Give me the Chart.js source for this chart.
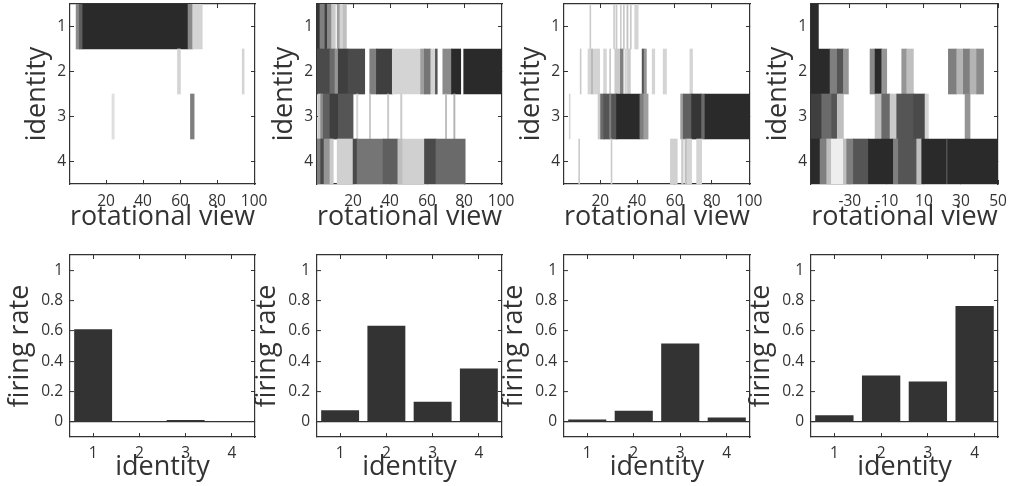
<!DOCTYPE html>
<html>
<head>
<meta charset="utf-8">
<script src="https://cdn.jsdelivr.net/npm/chart.js@4.4.1/dist/chart.umd.min.js"></script>
<style>
    html, body { margin: 0; padding: 0; background: #fff; width: 1009px; height: 486px; overflow: hidden; position: relative; }
</style>
</head>
<body>
<script>
// Four example cells: firing per identity across rotational views (top),
// and mean firing rate per identity (bottom).

// ---- data ----
const IDENTITIES = ['1', '2', '3', '4'];
const ROW_TICKS = [1, 2, 3, 4];
const VIEW_TICKS = [20, 40, 60, 80, 100];
const VIEW_TICKS_CENTERED = [-30, -10, 10, 30, 50];
const RATE_TICKS = [0, 0.2, 0.4, 0.6, 0.8, 1];

// mean firing rate per identity
const RATE_A = [0.61, 0.005, 0.012, 0.002];
const RATE_B = [0.077, 0.633, 0.132, 0.352];
const RATE_C = [0.015, 0.073, 0.516, 0.029];
const RATE_D = [0.044, 0.305, 0.266, 0.763];

// heat map rows (identity 1..4), runs of views: [from, to, response 0..1]
const HEAT_A = [
    [[3.8, 5.5, 0.55], [5.5, 7.4, 0.75], [7.4, 64.3, 1.0], [64.3, 66.8, 0.55], [66.8, 72, 0.2]],
    [[58.6, 60.2, 0.2], [93.6, 94.6, 0.2]],
    [[23.2, 24.4, 0.15], [65.6, 67.6, 0.6]],
    []
];
const HEAT_B = [
    [[0.5, 2.1, 0.95], [2.1, 4.8, 0.6], [4.8, 6.1, 0.9], [6.1, 8.4, 0.55], [8.4, 10.4, 0.25],
     [11.4, 12.9, 0.45], [12.9, 14.7, 0.2], [14.7, 16.4, 0.3]],
    [[0.5, 7.5, 0.85], [7.5, 10.2, 0.7], [10.2, 12, 0.5], [12, 17.3, 0.9], [17.3, 26.3, 0.85],
     [29, 32.6, 0.6], [32.6, 41.2, 0.9], [41.2, 56.5, 0.2], [56.5, 58.5, 0.45], [58.5, 62, 0.65],
     [62, 64.5, 0.2], [64.5, 65.5, 0.8], [68.5, 73.2, 0.55], [73.2, 78.2, 1.0], [79.8, 100.5, 1.0]],
    [[1.2, 2.5, 0.25], [2.5, 3.9, 0.55], [3.9, 7.5, 0.75], [7.5, 12, 0.9], [12, 20, 0.8],
     [21.9, 22.6, 0.2], [28.8, 29.5, 0.25], [38.6, 39.3, 0.25], [45.7, 46.4, 0.25],
     [69.9, 70.6, 0.3], [74.4, 75.1, 0.35]],
    [[0.5, 2.5, 0.6], [2.5, 4.3, 0.85], [4.3, 7.5, 0.5], [7.5, 9.3, 0.25], [11.4, 20, 0.22],
     [20, 22.2, 0.85], [22.2, 36.2, 0.65], [36.2, 44.2, 0.75], [44.2, 46.9, 0.3], [46.9, 58.6, 0.22],
     [58.6, 64.8, 0.85], [64.8, 80.6, 0.7]]
];
const HEAT_C = [
    [[14.4, 14.9, 0.25], [27.2, 27.7, 0.25], [28.4, 29, 0.25], [30.8, 31.3, 0.25], [32.4, 33, 0.25],
     [34.3, 34.9, 0.3], [36.1, 36.7, 0.25], [38.5, 40.4, 0.2]],
    [[9.2, 9.7, 0.25], [13.4, 19.7, 0.2], [15.3, 15.8, 0.35], [21.8, 23.3, 0.2], [25, 25.6, 0.25],
     [27.8, 30.5, 0.25], [30.8, 32.3, 0.6], [33.2, 34.1, 0.2], [34.6, 36.2, 0.25], [42.5, 43.6, 0.8],
     [43.6, 44.8, 0.5], [47.9, 49.3, 0.2], [53.8, 55.6, 0.2], [68.2, 69.6, 0.2]],
    [[3.3, 3.8, 0.2], [18.8, 20.2, 0.25], [20.2, 21.9, 0.7], [21.9, 25, 0.8], [25, 26, 0.6],
     [26, 28.7, 0.8], [28.7, 41.3, 1.0], [41.3, 43.4, 0.6], [43.4, 45.7, 0.45], [63.2, 64.6, 0.45],
     [64.6, 69.1, 0.75], [69.1, 74.5, 0.95], [74.5, 76.3, 0.7], [76.3, 100.5, 1.0]],
    [[8.4, 8.9, 0.25], [25.8, 26.3, 0.25], [57.7, 61.4, 0.22], [63.7, 64.6, 0.25], [65.5, 66.4, 0.3],
     [66.8, 69.1, 0.2], [71.8, 74.5, 0.2]]
];
const HEAT_D = [
    [[-51, -47, 1.0]],
    [[-51, -40.7, 1.0], [-40.7, -36.8, 0.6], [-36.8, -33.5, 0.8], [-33.5, -30.8, 0.5],
     [-19.1, -16.4, 0.55], [-16.4, -12.8, 1.0], [-12.8, -10.1, 0.5], [-2, 0.7, 0.5], [0.7, 4.3, 0.3],
     [23.2, 27.7, 0.6], [27.7, 31.3, 0.35], [31.3, 34.9, 0.6], [34.9, 38.5, 0.35], [38.5, 42.2, 0.55]],
    [[-51, -45.2, 0.9], [-45.2, -39.8, 0.7], [-39.8, -36.8, 0.8], [-36.8, -33.5, 0.3],
     [-16.4, -12.8, 0.3], [-12.8, -8.3, 0.7], [-8.3, -4.7, 0.25], [-4.7, 4.3, 0.8], [4.3, 10.6, 0.85],
     [10.6, 12.4, 0.2], [32.2, 34.9, 0.5]],
    [[-51, -46.1, 1.0], [-46.1, -42.5, 0.6], [-42.5, -40, 0.3], [-40, -33.5, 0.08], [-33.5, -31.7, 0.3],
     [-31.7, -28.1, 0.6], [-28.1, -20, 0.8], [-20, -6.5, 1.0], [-6.5, -3.8, 0.6], [-3.8, 6.1, 0.8],
     [6.1, 8.8, 0.3], [8.8, 22.3, 1.0], [22.3, 22.8, 0.7], [22.8, 50, 1.0]]
];

// ---- look ----
const INK = '#333333';
const FONT = '"Open Sans", "DejaVu Sans", sans-serif';
const TICK_FONT = { family: FONT, size: 15.5 };
const TITLE_FONT = { family: FONT, size: 27 };

const PANELS = [
    { heat: HEAT_A, rates: RATE_A, viewMin: 0.5, viewMax: 100.5, viewTicks: VIEW_TICKS, left: 70, right: 255 },
    { heat: HEAT_B, rates: RATE_B, viewMin: 0.5, viewMax: 100.5, viewTicks: VIEW_TICKS, left: 317, right: 502 },
    { heat: HEAT_C, rates: RATE_C, viewMin: 0.5, viewMax: 100.5, viewTicks: VIEW_TICKS, left: 564, right: 750 },
    { heat: HEAT_D, rates: RATE_D, viewMin: -51, viewMax: 50, viewTicks: VIEW_TICKS_CENTERED, left: 811, right: 998 }
];

// plot boxes (page pixels)
const HEAT_BOX = { top: 4, bottom: 184, pageBottom: 240 };
const RATE_BOX = { top: 255, bottom: 437, pageBottom: 486 };
const PAD_TOP = 24;     // room that Chart.js keeps for the top y label
const PAD_RIGHT = 28;   // room for the last x label
const AXIS_W = 70;

(function() {
    // white (no response) to near-black (full response)
    function shade(v) {
        const g = Math.round(255 - v * 213);
        return `rgb(${g},${g},${g})`;
    }

    function makeCanvas(left, top, width, height) {
        const c = document.createElement('canvas');
        c.width = width;
        c.height = height;
        c.style.cssText = `position:absolute;left:${left}px;top:${top}px;width:${width}px;height:${height}px`;
        document.body.appendChild(c);
        return c;
    }

    function canvasFor(p, box) {
        const left = p.left - AXIS_W;
        const top = box.top - PAD_TOP;
        return makeCanvas(left, top, p.right - left + PAD_RIGHT, box.pageBottom - top);
    }

    function fixSize(prop, size) {
        return scale => { scale[prop] = size; };
    }

    function tickSet(values) {
        return scale => { scale.ticks = values.map(v => ({ value: v })); };
    }

    function axisGrid(extra) {
        return Object.assign({
            offset: false,
            drawOnChartArea: false,
            drawTicks: true,
            tickLength: -4,
            tickColor: INK,
            tickWidth: 1
        }, extra);
    }

    // top / right box sides with inward ticks, no labels
    function frameAxis(position, extra) {
        return Object.assign({
            position: position,
            display: true,
            offset: false,
            ticks: { display: false },
            grid: axisGrid(),
            border: { display: true, color: INK, width: 1.2 },
            afterFit: fixSize(position === 'top' ? 'height' : 'width', 0)
        }, extra);
    }

    function baseOptions() {
        return {
            responsive: false,
            animation: false,
            devicePixelRatio: 1,
            layout: { padding: { top: PAD_TOP, right: PAD_RIGHT, left: 0, bottom: 0 } },
            plugins: { legend: { display: false }, tooltip: { enabled: false } }
        };
    }

    function renderHeat(p) {
        const canvas = canvasFor(p, HEAT_BOX);

        const items = [];
        p.heat.forEach((row, r) => {
            row.forEach(s => items.push({ x: [s[0], s[1]], y: r + 1, v: s[2] }));
        });

        const opts = baseOptions();
        opts.indexAxis = 'y';
        opts.scales = {
            x: {
                type: 'linear', position: 'bottom', offset: false, min: p.viewMin, max: p.viewMax,
                afterBuildTicks: tickSet(p.viewTicks),
                grid: axisGrid(),
                border: { display: true, color: INK, width: 1.2 },
                ticks: { color: INK, font: TICK_FONT, padding: 12, maxRotation: 0, autoSkip: false },
                title: { display: true, text: 'rotational view', color: INK, font: TITLE_FONT, padding: { top: 0, bottom: 6 } },
                afterFit: fixSize('height', HEAT_BOX.pageBottom - HEAT_BOX.bottom)
            },
            y: {
                type: 'linear', position: 'left', offset: false, reverse: true, min: 0.5, max: 4.5,
                afterBuildTicks: tickSet(ROW_TICKS),
                grid: axisGrid(),
                border: { display: true, color: INK, width: 1.2 },
                ticks: { color: INK, font: TICK_FONT, padding: 8, autoSkip: false },
                title: { display: true, text: 'identity', color: INK, font: TITLE_FONT, padding: { top: 21, bottom: 0 } },
                afterFit: fixSize('width', AXIS_W)
            },
            x2: frameAxis('top', { type: 'linear', min: p.viewMin, max: p.viewMax, afterBuildTicks: tickSet(p.viewTicks) }),
            y2: frameAxis('right', { type: 'linear', reverse: true, min: 0.5, max: 4.5, afterBuildTicks: tickSet(ROW_TICKS) })
        };

        new Chart(canvas, {
            type: 'bar',
            data: {
                datasets: [{
                    data: items,
                    backgroundColor: ctx => shade(ctx.raw.v),
                    borderWidth: 0,
                    categoryPercentage: 1,
                    barPercentage: 1,
                    grouped: false
                }]
            },
            options: opts
        });
    }

    function renderRates(p) {
        const canvas = canvasFor(p, RATE_BOX);

        const opts = baseOptions();
        opts.scales = {
            x: {
                type: 'category', position: 'bottom', offset: true,
                grid: axisGrid(),
                border: { display: true, color: INK, width: 1.2 },
                ticks: { color: INK, font: TICK_FONT, padding: 11, maxRotation: 0 },
                title: { display: true, text: 'identity', color: INK, font: TITLE_FONT, padding: { top: 0, bottom: 2 } },
                afterFit: fixSize('height', RATE_BOX.pageBottom - RATE_BOX.bottom)
            },
            y: {
                type: 'linear', position: 'left', min: -0.1, max: 1.1,
                afterBuildTicks: tickSet(RATE_TICKS),
                grid: axisGrid({
                    drawOnChartArea: true,
                    color: ctx => (ctx.tick && ctx.tick.value === 0 ? INK : 'rgba(0,0,0,0)'),
                    lineWidth: 1.2
                }),
                border: { display: true, color: INK, width: 1.2 },
                ticks: { color: INK, font: TICK_FONT, padding: 11, autoSkip: false, callback: v => String(v) },
                title: { display: true, text: 'firing rate', color: INK, font: TITLE_FONT, padding: { top: 4, bottom: 0 } },
                afterFit: fixSize('width', AXIS_W)
            },
            x2: frameAxis('top', { type: 'category', offset: true }),
            y2: frameAxis('right', { type: 'linear', min: -0.1, max: 1.1, afterBuildTicks: tickSet(RATE_TICKS) })
        };

        new Chart(canvas, {
            type: 'bar',
            data: {
                labels: IDENTITIES,
                datasets: [{
                    data: p.rates,
                    backgroundColor: INK,
                    borderWidth: 0,
                    categoryPercentage: 1,
                    barPercentage: 0.82
                }]
            },
            options: opts
        });
    }

    PANELS.forEach(p => {
        renderHeat(p);
        renderRates(p);
    });
})();
</script>
</body>
</html>
